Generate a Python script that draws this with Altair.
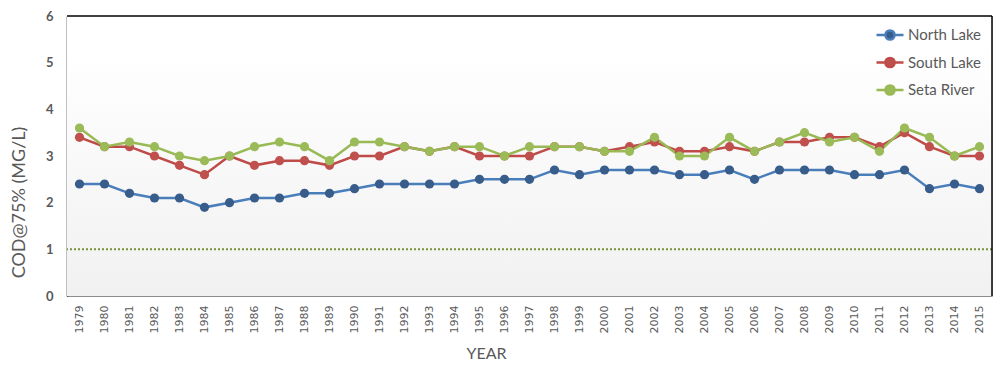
import altair as alt
import pandas as pd

years = list(range(1979, 2016))
north_lake = [2.4, 2.4, 2.2, 2.1, 2.1, 1.9, 2.0, 2.1, 2.1, 2.2, 2.2, 2.3, 2.4, 2.4, 2.4, 2.4,
              2.5, 2.5, 2.5, 2.7, 2.6, 2.7, 2.7, 2.7, 2.6, 2.6, 2.7, 2.5, 2.7, 2.7, 2.7, 2.6,
              2.6, 2.7, 2.3, 2.4, 2.3]
south_lake = [3.4, 3.2, 3.2, 3.0, 2.8, 2.6, 3.0, 2.8, 2.9, 2.9, 2.8, 3.0, 3.0, 3.2, 3.1, 3.2,
              3.0, 3.0, 3.0, 3.2, 3.2, 3.1, 3.2, 3.3, 3.1, 3.1, 3.2, 3.1, 3.3, 3.3, 3.4, 3.4,
              3.2, 3.5, 3.2, 3.0, 3.0]
seta_river = [3.6, 3.2, 3.3, 3.2, 3.0, 2.9, 3.0, 3.2, 3.3, 3.2, 2.9, 3.3, 3.3, 3.2, 3.1, 3.2,
              3.2, 3.0, 3.2, 3.2, 3.2, 3.1, 3.1, 3.4, 3.0, 3.0, 3.4, 3.1, 3.3, 3.5, 3.3, 3.4,
              3.1, 3.6, 3.4, 3.0, 3.2]
series_names = ["North Lake", "South Lake", "Seta River"]
line_colors = ["#4A7EBB", "#BE4B48", "#98B954"]
marker_colors = ["#385D8A", "#C0504D", "#9BBB59"]
y_ticks = [0, 1, 2, 3, 4, 5, 6]
reference_level = [1]

df = pd.DataFrame({
    "year": years * 3,
    "value": north_lake + south_lake + seta_river,
    "series": [series_names[0]] * len(years) + [series_names[1]] * len(years) + [series_names[2]] * len(years),
})
one = pd.DataFrame({"v": reference_level})

sym_path = "M-1,0L-0.34,0M0.34,0L1,0M-0.34,0A0.34,0.34 0 1,0 0.34,0A0.34,0.34 0 1,0 -0.34,0Z"

def make_legend():
    return alt.Legend(
        title=None, orient="none", legendX=808, legendY=4,
        symbolType=sym_path, symbolSize=729, symbolStrokeWidth=2.5,
        labelFont="Lato", labelFontSize=15, labelColor="#595959",
        labelOffset=3, rowPadding=2.5, padding=0,
    )

x_enc = alt.X(
    "year:O",
    scale=alt.Scale(padding=0.5),
    axis=alt.Axis(
        title="YEAR", labelAngle=270, labelFont="DejaVu Sans", labelFontSize=11,
        labelColor="#595959", ticks=False, domainColor="#8c8c8c", domainWidth=1,
        gridColor="#d9d9d9", grid=True, labelPadding=9,
        titleFont="Lato", titleFontSize=16, titleColor="#595959", titleFontWeight="normal",
        titleX=419, titleY=57, titleBaseline="middle", titleAnchor="middle",
    ),
)
y_enc = alt.Y(
    "value:Q",
    scale=alt.Scale(domain=[0, 6], nice=False),
    axis=alt.Axis(
        title="COD@75% (MG/L)", values=y_ticks, labelFont="Lato", labelFontSize=13,
        labelFontWeight="bold", labelColor="#595959", labelPadding=14, ticks=False,
        domainColor="black", domainWidth=1.5, gridColor="#d9d9d9", grid=True,
        titleFont="Lato", titleFontSize=18, titleColor="#595959", titleFontWeight="normal",
        titleAngle=270, titleX=-48, titleY=186, titleBaseline="middle", titleAlign="center",
    ),
)

bg = alt.Chart(one).mark_rect(
    color=alt.Gradient(
        gradient="linear",
        stops=[alt.GradientStop(color="#ffffff", offset=0),
               alt.GradientStop(color="#ffffff", offset=0.12),
               alt.GradientStop(color="#f1f1f1", offset=1)],
        x1=0, x2=0, y1=0, y2=1,
    )
).encode(x=alt.value(0), x2=alt.value("width"), y=alt.value(0), y2=alt.value("height"))

ref = alt.Chart(one).mark_rule(color="#77933C", strokeWidth=2, strokeDash=[2, 2]).encode(
    y=alt.Y("v:Q")
)

lines = alt.Chart(df).mark_line(strokeWidth=2.5).encode(
    x=x_enc, y=y_enc,
    stroke=alt.Stroke("series:N", scale=alt.Scale(domain=series_names, range=line_colors),
                      legend=make_legend()),
)
points = alt.Chart(df).mark_circle(size=85, opacity=1).encode(
    x="year:O", y="value:Q",
    fill=alt.Fill("series:N", scale=alt.Scale(domain=series_names, range=marker_colors),
                  legend=make_legend()),
)

top_rule = alt.Chart(one).mark_rule(color="black", strokeWidth=1.5).encode(
    x=alt.value(0), x2=alt.value("width"), y=alt.value(0)
)
right_rule = alt.Chart(one).mark_rule(color="black", strokeWidth=1.5).encode(
    x=alt.value("width"), y=alt.value(0), y2=alt.value("height")
)

chart = alt.layer(bg, ref, lines, points, top_rule, right_rule).properties(
    width=925, height=280,
    autosize=alt.AutoSizeParams(type="none"),
    padding={"left": 59, "top": 8, "right": 1, "bottom": 66},
).configure_view(stroke=None).configure(background="white")

chart.save("out.html", embed_options={"renderer": "svg", "actions": False})
